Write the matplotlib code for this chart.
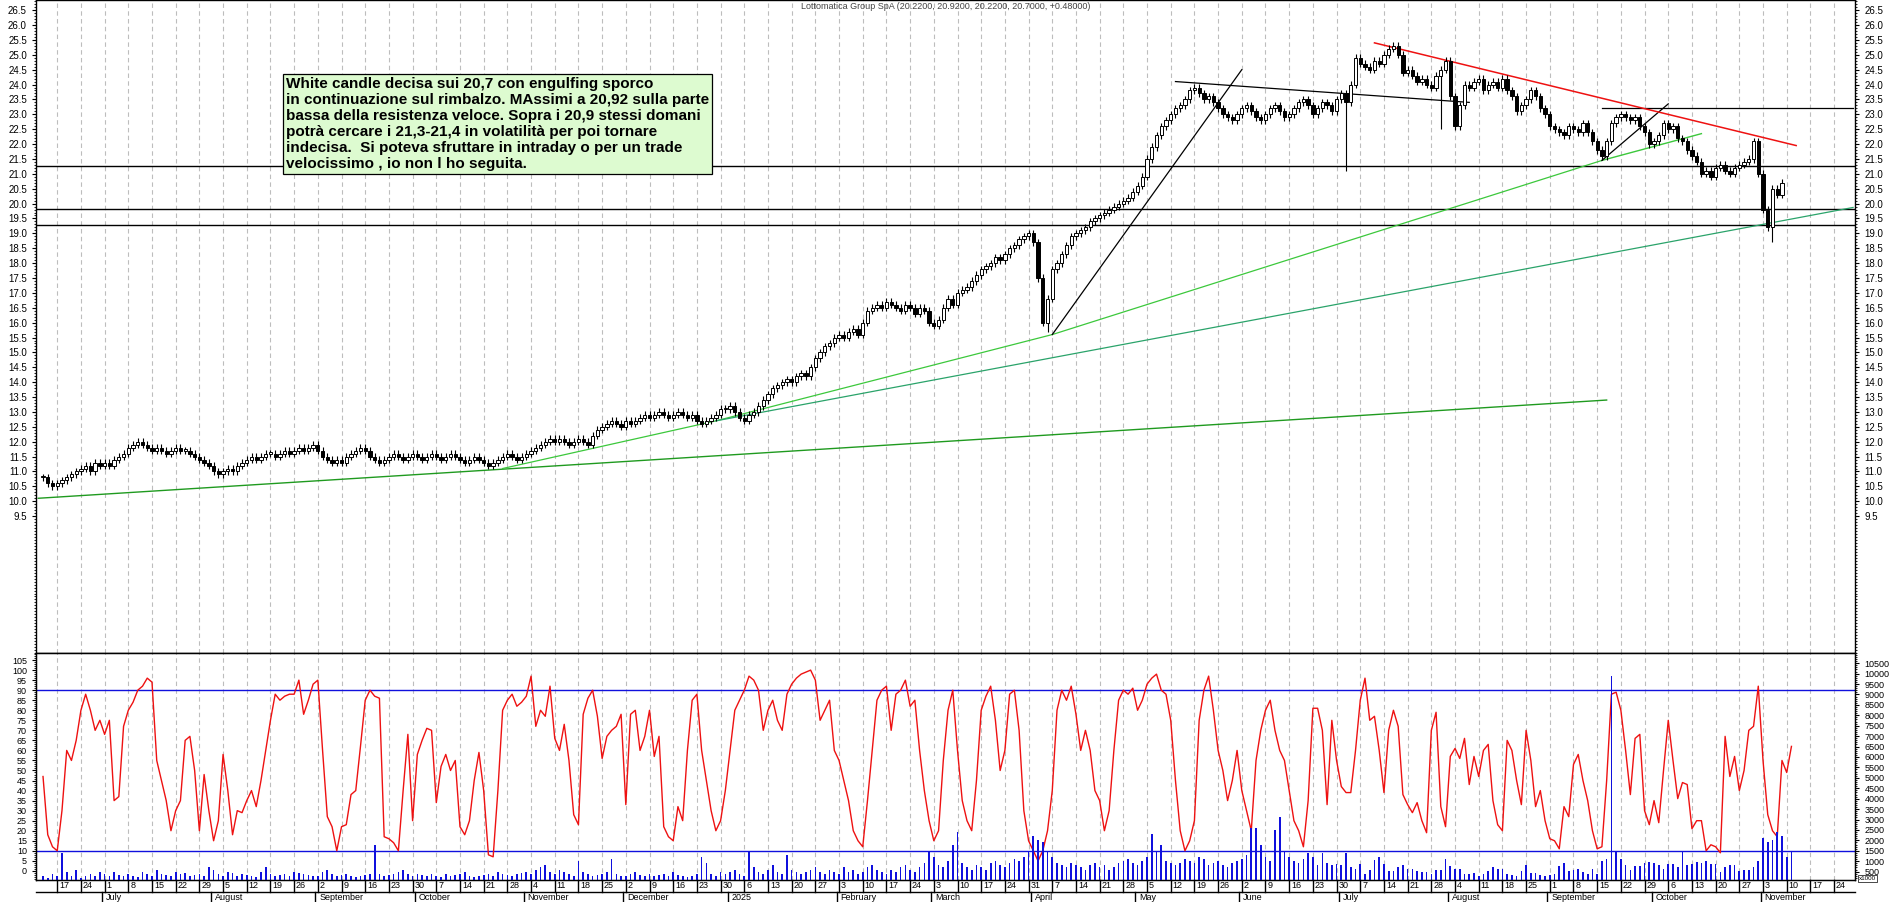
import matplotlib
matplotlib.use("Agg")
import matplotlib.pyplot as plt
import matplotlib.transforms as mtransforms
import numpy as np
import pandas as pd

plt.rcParams["font.family"] = ["Liberation Sans", "DejaVu Sans"]

# ---- data ----------------------------------------------------------------
FIRST_DAY = "2024-06-12"
CAL_START, CAL_END = "2024-06-11", "2025-11-28"

closes = [
    # Jun 2024
    10.8, 10.6, 10.5, 10.6, 10.7, 10.8, 10.9, 11.0, 11.1, 11.2, 11.0, 11.3, 11.2,
    # Jul
    11.3, 11.2, 11.4, 11.5, 11.6, 11.8, 11.9, 12.0, 11.9, 11.8, 11.7, 11.8, 11.7,
    11.6, 11.7, 11.8, 11.7, 11.7, 11.6, 11.5, 11.4, 11.3, 11.2,
    # Aug
    11.0, 10.9, 11.0, 11.1, 11.0, 11.2, 11.3, 11.4, 11.5, 11.4, 11.5, 11.6, 11.6,
    11.5, 11.6, 11.7, 11.6, 11.7, 11.8, 11.7, 11.8, 11.9,
    # Sep
    11.7, 11.5, 11.4, 11.3, 11.4, 11.3, 11.5, 11.6, 11.7, 11.8, 11.7, 11.5, 11.4,
    11.3, 11.4, 11.5, 11.6, 11.5, 11.4, 11.5, 11.6,
    # Oct
    11.5, 11.4, 11.5, 11.6, 11.5, 11.4, 11.5, 11.6, 11.5, 11.4, 11.3, 11.4, 11.5,
    11.4, 11.3, 11.2, 11.3, 11.4, 11.5, 11.6, 11.5, 11.4, 11.5,
    # Nov
    11.6, 11.7, 11.8, 11.9, 12.0, 12.1, 12.0, 12.1, 12.0, 11.9, 12.0, 12.1, 12.0,
    11.9, 12.2, 12.4, 12.5, 12.6, 12.7, 12.6, 12.5,
    # Dec
    12.7, 12.6, 12.7, 12.8, 12.9, 12.8, 12.9, 13.0, 12.9, 12.8, 12.9, 13.0, 12.9,
    12.8, 12.9, 12.7, 12.6, 12.7, 12.8, 12.9, 13.1,
    # Jan 2025
    13.1, 13.2, 13.0, 12.8, 12.7, 12.9, 13.0, 13.2, 13.4, 13.6, 13.8, 13.9, 14.0,
    14.1, 14.0, 14.2, 14.3, 14.2, 14.5, 14.8, 15.0, 15.2,
    # Feb
    15.3, 15.5, 15.6, 15.5, 15.7, 15.8, 15.6, 16.0, 16.4, 16.5, 16.6, 16.5, 16.7,
    16.6, 16.5, 16.4, 16.6, 16.5, 16.3, 16.5,
    # Mar
    16.4, 16.0, 15.9, 16.1, 16.5, 16.8, 16.6, 17.0, 17.1, 17.2, 17.4, 17.6, 17.8,
    17.9, 18.0, 18.2, 18.1, 18.3, 18.5, 18.6, 18.8,
    # Apr
    18.9, 19.0, 18.7, 17.5, 16.0, 16.8, 17.8, 18.0, 18.3, 18.6, 18.9, 19.0, 19.1,
    19.2, 19.4, 19.5, 19.6, 19.7, 19.8, 19.9, 20.0, 20.1,
    # May
    20.2, 20.4, 20.6, 20.9, 21.5, 21.9, 22.3, 22.6, 22.8, 23.0, 23.2, 23.3, 23.5,
    23.8, 23.9, 23.7, 23.5, 23.6, 23.4, 23.2, 23.0, 22.9,
    # Jun
    22.8, 23.0, 23.2, 23.3, 23.1, 22.9, 22.8, 23.0, 23.2, 23.3, 23.1, 22.9, 23.0,
    23.2, 23.4, 23.5, 23.3, 23.0, 23.2, 23.4, 23.3,
    # Jul
    23.1, 23.5, 23.7, 23.4, 24.0, 24.9, 24.7, 24.6, 24.5, 24.8, 24.7, 25.0, 25.2,
    25.3, 25.0, 24.4, 24.5, 24.3, 24.1, 24.2, 24.0, 23.9, 24.3,
    # Aug
    24.5, 24.8, 23.6, 22.6, 23.3, 24.0, 23.9, 24.1, 24.2, 23.8, 24.0, 24.1, 23.9,
    24.2, 23.8, 23.6, 23.1, 23.3, 23.5, 23.8, 23.6,
    # Sep
    23.2, 23.0, 22.6, 22.5, 22.4, 22.3, 22.6, 22.5, 22.4, 22.7, 22.4, 22.1, 21.8,
    21.6, 22.1, 22.7, 22.9, 23.0, 22.9, 22.8, 22.9, 22.6,
    # Oct
    22.4, 22.0, 22.1, 22.3, 22.7, 22.5, 22.6, 22.2, 22.1, 21.8, 21.6, 21.4, 21.0,
    21.1, 20.9, 21.2, 21.3, 21.1, 21.0, 21.2, 21.3, 21.4, 21.5,
    # Nov
    22.1, 21.0, 19.8, 19.2, 20.5, 20.3, 20.7,
]
# a few long wicks visible on the chart: day index -> low
spike_lows = {275: 21.1, 212: 15.7, 365: 18.7, 295: 22.5}

oscillator = [
    47, 18, 12, 10, 30, 60, 55, 65, 80, 88, 80, 70, 75,
    68, 75, 35, 37, 72, 80, 84, 90, 92, 96, 94, 55, 45, 35, 20, 30, 35, 65, 67, 50, 20, 48, 30,
    15, 25, 58, 40, 18, 30, 29, 35, 40, 32, 45, 60, 75, 88, 85, 87, 88, 88, 95, 78, 85, 93,
    95, 60, 27, 22, 10, 22, 23, 38, 40, 62, 85, 90, 87, 86, 17, 16, 14, 10, 40, 68, 25,
    58, 65, 71, 70, 34, 52, 58, 50, 55, 22, 18, 25, 45, 59, 40, 8, 7, 40, 80, 85, 88, 82, 84,
    87, 97, 72, 80, 77, 92, 66, 60, 73, 55, 28, 23, 78, 86, 90, 77, 56, 67, 70, 72, 78,
    33, 78, 80, 60, 67, 80, 57, 67, 22, 17, 15, 32, 25, 60, 85, 88, 60, 45, 30, 20, 25,
    40, 60, 80, 85, 90, 97, 95, 90, 70, 80, 85, 75, 70, 88, 93, 96, 98, 99, 100, 95, 75, 80,
    85, 60, 55, 45, 35, 20, 15, 12, 35, 60, 85, 90, 92, 70, 88, 90, 95, 82, 85, 60,
    40, 25, 15, 20, 55, 80, 90, 60, 35, 25, 20, 45, 80, 87, 92, 75, 50, 60, 88, 90, 70,
    30, 15, 10, 5, 10, 20, 40, 80, 90, 85, 92, 78, 60, 70, 60, 40, 35, 20, 30, 60, 85, 90,
    88, 91, 80, 85, 93, 96, 98, 90, 88, 75, 45, 20, 10, 15, 25, 75, 90, 97, 80, 60, 50, 35,
    45, 60, 40, 30, 20, 55, 70, 80, 85, 70, 60, 55, 40, 25, 20, 12, 35,
    81, 81, 70, 33, 75, 55, 42, 39, 39, 60, 85, 96, 75, 77, 60, 39, 70, 80, 72, 38, 33, 29,
    34, 25, 19, 70, 79, 32, 22, 57, 61, 56, 66, 43, 57, 47, 60, 63, 35, 23, 20, 65, 60, 45,
    33, 70, 55, 32, 40, 25, 16, 15, 11, 32, 27, 53, 58, 45, 35, 20, 11, 12, 45, 88, 89, 80,
    60, 38, 66, 68, 30, 23, 35, 24, 50, 75, 55, 36, 44, 43, 21, 25, 25, 10, 13, 12, 9, 67,
    47, 57, 40, 50, 70, 72, 92, 55, 28, 20, 17, 55, 49, 62,
]

volume = [
    300, 200, 400, 300, 1400, 500, 300, 600, 200, 300, 400, 300, 500,
    400, 300, 500, 350, 300, 400, 300, 250, 500, 400, 300, 600, 400, 350, 300, 500, 400, 450, 300, 350, 400, 300, 700,
    600, 400, 300, 500, 450, 300, 400, 350, 300, 250, 500, 700, 400, 300, 350, 400, 300, 500, 450, 400, 350, 300,
    300, 500, 600, 400, 300, 350, 400, 300, 250, 300, 350, 400, 1800, 400, 300, 350, 400, 500, 600, 400, 300,
    400, 350, 300, 400, 300, 250, 400, 300, 350, 400, 500, 300, 250, 300, 350, 400, 300, 500, 400, 350, 300, 400, 450,
    500, 400, 600, 700, 800, 500, 400, 600, 500, 400, 300, 1000, 500, 400, 300, 350, 400, 500, 1100, 400, 300,
    300, 400, 500, 350, 300, 400, 300, 350, 400, 300, 500, 350, 300, 250, 300, 400, 1200, 900, 400, 300, 500,
    400, 500, 600, 400, 300, 1500, 700, 500, 400, 600, 800, 500, 400, 1300, 600, 500, 400, 500, 600, 700, 500, 400,
    600, 500, 400, 700, 500, 600, 400, 500, 700, 800, 600, 500, 400, 600, 500, 700, 800, 600, 500, 700,
    900, 1500, 1200, 800, 700, 1000, 1800, 2400, 900, 700, 600, 800, 700, 600, 900, 1000, 800, 700, 900, 1100, 1000,
    1200, 1500, 2200, 2000, 1900, 1500, 1200, 900, 800, 700, 900, 800, 700, 600, 800, 900, 700, 800, 600, 700, 900, 1000,
    1100, 900, 800, 1000, 1200, 2300, 1500, 1800, 1000, 900, 800, 900, 1100, 1000, 900, 1200, 1100, 800, 900, 1000, 800, 700,
    900, 1000, 1100, 1300, 2600, 2600, 1800, 1200, 1000, 2500, 3100, 1500, 1200, 1000, 900, 1100, 1400, 1200, 800, 1400, 900,
    800, 850, 800, 1400, 700, 650, 850, 400, 600, 1050, 1200, 850, 550, 550, 700, 800, 650, 650, 550, 500, 500, 400, 600,
    580, 1100, 750, 650, 650, 400, 400, 450, 300, 400, 550, 700, 650, 650, 400, 350, 300, 550, 800, 450, 450, 350,
    300, 350, 400, 750, 900, 550, 600, 650, 500, 400, 650, 400, 1000, 1100, 9900, 1450, 1100, 800, 600, 750, 750, 900,
    950, 900, 800, 650, 850, 850, 700, 1450, 800, 850, 950, 900, 1000, 850, 850, 500, 700, 800, 800, 550, 600, 600, 700,
    1000, 2100, 1900, 2000, 2400, 2200, 1200, 1500,
]

# horizontal levels and trend lines (date, price)
levels = [21.25, 19.83, 19.28]
green_dark = [("2024-06-11", 10.1), ("2025-09-17", 13.4)]
green_light = [("2024-10-25", 11.1), ("2024-12-27", 12.7), ("2025-04-07", 15.6), ("2025-09-16", 21.45)]
green_light2 = [("2025-09-16", 21.45), ("2025-10-15", 22.35)]
green_teal = [("2024-12-27", 12.7), ("2025-11-28", 19.87)]
black_lines = [
    [("2025-04-07", 15.6), ("2025-06-02", 24.5)],
    [("2025-05-13", 24.1), ("2025-08-07", 23.4)],
    [("2025-09-16", 21.45), ("2025-10-06", 23.35)],
    [("2025-09-16", 23.2), ("2025-11-28", 23.2)],
]
red_line = [("2025-07-10", 25.4), ("2025-11-12", 21.95)]

title = "Lottomatica Group SpA (20.2200, 20.9200, 20.2200, 20.7000, +0.48000)"
note = ("White candle decisa sui 20,7 con engulfing sporco\n"
        "in continuazione sul rimbalzo. MAssimi a 20,92 sulla parte\n"
        "bassa della resistenza veloce. Sopra i 20,9 stessi domani\n"
        "potrà cercare i 21,3-21,4 in volatilità per poi tornare\n"
        "indecisa.  Si poteva sfruttare in intraday o per un trade\n"
        "velocissimo , io non l ho seguita.")

# ---- layout --------------------------------------------------------------
cal = pd.bdate_range(CAL_START, CAL_END)
pos_of = {d: i for i, d in enumerate(cal)}
x0 = pos_of[pd.Timestamp(FIRST_DAY)]


def xp(d):
    return pos_of[pd.bdate_range(d, periods=1)[0]]


fig = plt.figure(figsize=(18.9, 9.02), dpi=100)
L, W = 0.019, 0.9627
BOT, SEP = 0.0245, 0.276
ax = fig.add_axes([L, SEP, W, 1.0 - SEP])
ax2 = fig.add_axes([L, BOT, W, SEP - BOT], sharex=ax)

xmin, xmax = -0.5, len(cal) - 0.5
mondays = [i for i, d in enumerate(cal) if d.weekday() == 0]
for a in (ax, ax2):
    for m in mondays:
        a.axvline(m, color="#bdbdbd", lw=0.8, ls=(0, (4, 3)), zorder=0)
    a.set_xlim(xmin, xmax)
    a.tick_params(axis="y", labelsize=7, length=3, direction="out", right=True, left=True)
    for s in a.spines.values():
        s.set_linewidth(1.0)

# candles
n = len(closes)
opens = [closes[0]] + closes[:-1]
for i in range(n):
    x = x0 + i
    o, c = opens[i], closes[i]
    hi = max(o, c) + 0.12
    lo = spike_lows.get(i, min(o, c) - 0.12)
    ax.vlines(x, lo, hi, color="black", lw=0.8, zorder=3)
    body = max(abs(c - o), 0.04)
    ax.bar(x, body, bottom=min(o, c), width=0.7,
           color="white" if c >= o else "black", edgecolor="black", lw=0.7, zorder=4)

for y in levels:
    ax.axhline(y, color="black", lw=1.0, zorder=2)


def seg(points, **kw):
    ax.plot([xp(d) for d, _ in points], [p for _, p in points], **kw)


seg(green_dark, color="#1f9a1f", lw=1.0, zorder=2)
seg(green_light, color="#3cc83c", lw=0.9, zorder=2)
seg(green_light2, color="#3cc83c", lw=1.0, zorder=2)
seg(green_teal, color="#2aa36a", lw=0.9, zorder=2)
for bl in black_lines:
    seg(bl, color="black", lw=0.9, zorder=2)
seg(red_line, color="#ee1111", lw=1.1, zorder=2)

ax.set_ylim(4.9, 26.84)
ticks = np.arange(9.5, 26.6, 0.5)
ax.set_yticks(ticks)
ax.set_yticklabels([f"{v:.1f}" for v in ticks])
ax.yaxis.set_minor_locator(matplotlib.ticker.MultipleLocator(0.1))
ax.tick_params(axis="y", which="minor", length=1.5, right=True, left=True)
ax.tick_params(axis="y", labelright=True)
ax.tick_params(axis="x", bottom=False, labelbottom=False)

ax.text(0.5, 0.997, title, transform=ax.transAxes, ha="center", va="top",
        fontsize=6.5, color="#444444")
ax.text(0.1375, 0.882, note, transform=ax.transAxes, ha="left", va="top",
        fontsize=11, fontweight="bold", linespacing=1.18,
        bbox=dict(boxstyle="square,pad=0.2", fc="#ddfbd0", ec="black", lw=0.9))

# oscillator + volume panel
lo2, hi2 = -4.5, 108.5
ax2.set_ylim(lo2, hi2)
ax2.plot(np.arange(len(oscillator)) + x0, oscillator, color="#ee1111", lw=1.0, zorder=3)
ax2.axhline(90, color="#1010dd", lw=1.0, zorder=2)
ax2.axhline(10, color="#1010dd", lw=1.0, zorder=2)
ax2.set_yticks(np.arange(0, 106, 5))
ax2.yaxis.set_minor_locator(matplotlib.ticker.MultipleLocator(1))
ax2.tick_params(axis="y", which="minor", length=1.5)
ax2.tick_params(axis="y", right=False, labelsize=6.5)

vax = ax2.twinx()
vax.set_ylim(lo2 * 96.3 + 537, hi2 * 96.3 + 537)
vax.bar(np.arange(len(volume)) + x0, volume, width=0.35, color="#1010dd", zorder=1)
vax.set_yticks(np.arange(500, 10501, 500))
vax.tick_params(axis="y", labelsize=6.5, length=3)
vax.yaxis.set_minor_locator(matplotlib.ticker.MultipleLocator(100))
vax.tick_params(axis="y", which="minor", length=1.5)
vax.text(1.002, -0.005, "x1000", transform=vax.transAxes, fontsize=4.5, va="bottom",
         bbox=dict(boxstyle="square,pad=0.1", fc="white", ec="black", lw=0.5))

# date axis: Monday numbers, month names below
ax2.tick_params(axis="x", bottom=False, labelbottom=False)
trans = mtransforms.blended_transform_factory(ax2.transData, fig.transFigure)
ROW = 0.0115
for m in mondays:
    fig.add_artist(plt.Line2D([m, m], [ROW, BOT], transform=trans, color="black", lw=1.0))
    fig.text(m + 0.4, (ROW + BOT) / 2, str(cal[m].day), transform=trans,
             fontsize=6.5, ha="left", va="center")
months = pd.date_range("2024-07-01", "2025-11-01", freq="MS")
for ms in months:
    first = next(i for i, d in enumerate(cal) if d >= ms)
    name = "2025" if ms.month == 1 else ms.strftime("%B")
    fig.add_artist(plt.Line2D([first - 0.5, first - 0.5], [0.0, ROW],
                              transform=trans, color="black", lw=1.0))
    fig.text(first + 0.3, 0.0005, name, transform=trans, fontsize=6.5, ha="left", va="bottom")
fig.add_artist(plt.Line2D([xmin, xmax], [ROW, ROW], transform=trans, color="black", lw=1.0))

fig.savefig("out.png", dpi=100)
